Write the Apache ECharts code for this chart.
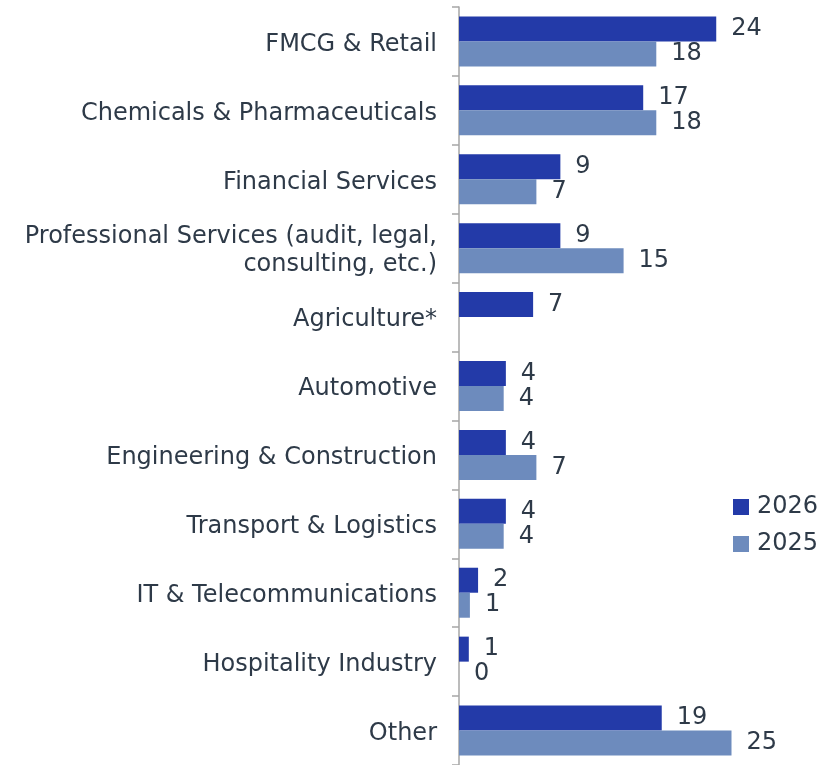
<!DOCTYPE html>
<html>
<head>
<meta charset="utf-8">
<script src="https://cdn.jsdelivr.net/npm/echarts@6/dist/echarts.min.js"></script>
<style>
  html, body { margin: 0; padding: 0; background: #fff; overflow: hidden; }
  #chart { width: 817px; height: 765px; }
</style>
</head>
<body>
<div id="chart"></div>
<script>
const categories = [
  'FMCG & Retail',
  'Chemicals & Pharmaceuticals',
  'Financial Services',
  'Professional Services (audit, legal,\nconsulting, etc.)',
  'Agriculture*',
  'Automotive',
  'Engineering & Construction',
  'Transport & Logistics',
  'IT & Telecommunications',
  'Hospitality Industry',
  'Other'
]

// values; labels show rounded figures
const values2026 = [23.6, 16.9, 9.3, 9.3, 6.8, 4.3, 4.3, 4.3, 1.75, 0.9, 18.6]
const values2025 = [18.1, 18.1, 7.1, 15.1, null, 4.1, 7.1, 4.1, 1.0, 0, 25.0]

const COLORS = ['#233aa8', '#6d8bbd']
const FONT = '"DejaVu Sans", sans-serif'
const SIZE = 24
const TEXT = '#2e3a48'

const chart = echarts.init(document.getElementById('chart'), null, { renderer: 'canvas' })

const labelOpt = {
  show: true,
  position: 'right',
  distance: 15,
  color: TEXT,
  fontFamily: FONT,
  fontSize: SIZE,
  formatter: p => Math.round(p.value)
}

chart.setOption({
  animation: false,
  textStyle: { fontFamily: FONT },
  grid: { left: 459, right: 31, top: 7, height: 762, containLabel: false },
  legend: {
    orient: 'vertical',
    left: 733,
    top: 494,
    padding: 0,
    icon: 'rect',
    itemWidth: 16,
    itemHeight: 16,
    itemGap: 11,
    textStyle: { color: TEXT, fontFamily: FONT, fontSize: SIZE, lineHeight: 26, padding: [0, 0, 0, 3] },
    data: ['2026', '2025']
  },
  xAxis: {
    type: 'value',
    min: 0,
    max: 30,
    show: false
  },
  yAxis: {
    type: 'category',
    inverse: true,
    data: categories,
    axisLine: { show: true, lineStyle: { color: '#a6a6a6', width: 1.5 } },
    axisTick: { show: true, length: 7, lineStyle: { color: '#a6a6a6', width: 1.5 } },
    axisLabel: {
      margin: 22,
      align: 'right',
      formatter: v => v.split('\n').map(s => '{c|' + s + '}').join('\n'),
      rich: {
        c: {
          color: TEXT,
          fontFamily: FONT,
          fontSize: SIZE,
          lineHeight: 28,
          padding: [6, 0, 0, 0],
          align: 'right'
        }
      }
    }
  },
  series: [
    {
      name: '2026',
      type: 'bar',
      data: values2026,
      barWidth: 25,
      barGap: '0%',
      itemStyle: { color: COLORS[0] },
      label: labelOpt
    },
    {
      name: '2025',
      type: 'bar',
      data: values2025,
      barWidth: 25,
      itemStyle: { color: COLORS[1] },
      label: labelOpt
    }
  ]
})
</script>
</body>
</html>
